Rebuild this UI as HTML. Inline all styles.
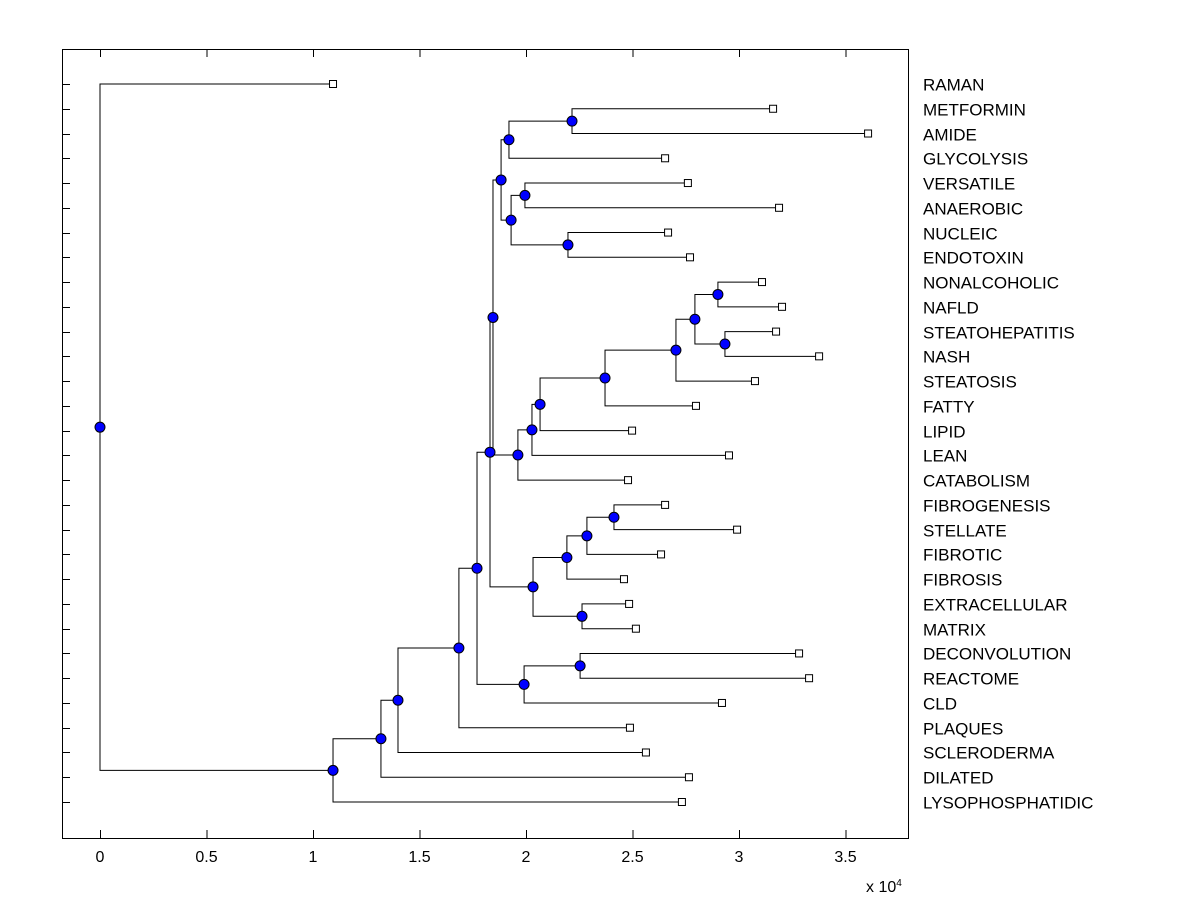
<!DOCTYPE html>
<html><head><meta charset="utf-8"><style>body{margin:0;background:#fff}svg{display:block}text{font-family:"Liberation Sans",sans-serif;font-size:16px;fill:#000}.lbl{font-size:17px}</style></head>
<body>
<svg id="chart" width="1200" height="900"></svg>
<script>
const leafLabels=["RAMAN","METFORMIN","AMIDE","GLYCOLYSIS","VERSATILE","ANAEROBIC","NUCLEIC","ENDOTOXIN","NONALCOHOLIC","NAFLD","STEATOHEPATITIS","NASH","STEATOSIS","FATTY","LIPID","LEAN","CATABOLISM","FIBROGENESIS","STELLATE","FIBROTIC","FIBROSIS","EXTRACELLULAR","MATRIX","DECONVOLUTION","REACTOME","CLD","PLAQUES","SCLERODERMA","DILATED","LYSOPHOSPHATIDIC"];
const leafValues=[1.094,3.16,3.606,2.653,2.76,3.188,2.667,2.77,3.108,3.202,3.174,3.376,3.075,2.798,2.498,2.953,2.479,2.653,2.991,2.634,2.46,2.484,2.516,3.282,3.329,2.92,2.488,2.563,2.765,2.732];
const merges=[
["1","2",2.216],["n0","3",1.92],["4","5",1.995],["6","7",2.197],["n2","n3",1.93],["n1","n4",1.883],
["8","9",2.901],["10","11",2.934],["n6","n7",2.793],["n8","12",2.704],["n9","13",2.371],["n10","14",2.066],["n11","15",2.028],["n12","16",1.962],
["17","18",2.413],["n14","19",2.286],["n15","20",2.192],["21","22",2.263],["n16","n17",2.033],
["n5","n13",1.845],["n19","n18",1.831],["23","24",2.254],["n21","25",1.991],["n20","n22",1.77],
["n23","26",1.685],["n24","27",1.399],["n25","28",1.319],["n26","29",1.094],["0","n27",0]];
const xTicks=[0,0.5,1,1.5,2,2.5,3,3.5];
const X=v=>100+v*213, Yr=i=>84+i*(802-84)/29;
const svg=document.getElementById('chart'),NS="http://www.w3.org/2000/svg";
function mk(t,a,p){const e=document.createElementNS(NS,t);for(const k in a)e.setAttribute(k,a[k]);(p||svg).appendChild(e);return e;}
const ax=mk('g',{});


mk('rect',{x:62.5,y:49.5,width:846,height:789,fill:'none',stroke:'#000','stroke-width':1},ax);
xTicks.forEach(t=>{const x=X(t)+0.5;
mk('line',{x1:x,x2:x,y1:838,y2:830,stroke:'#000'},ax);mk('line',{x1:x,x2:x,y1:49,y2:57,stroke:'#000'},ax);
const tx=mk('text',{x:X(t),y:862,'text-anchor':'middle'},ax);tx.textContent=String(t);

});
const ex=mk('text',{x:866,y:892,'font-size':'14'},ax);ex.innerHTML='x 10<tspan dy="-6" font-size="10">4</tspan>';


leafLabels.forEach((l,i)=>{const y=Math.round(Yr(i))+0.5;mk('line',{x1:62,x2:70,y1:y,y2:y,stroke:'#000'},ax);
const t=mk('text',{x:923,y:y+6,'class':'lbl'},ax);t.textContent=l;

});
const nodes={};leafValues.forEach((v,i)=>nodes[String(i)]={x:v,y:Yr(i)});
const g=mk('g',{}),mg=mk('g',{});
const circles=[];
merges.forEach((m,k)=>{const a=nodes[m[0]],b=nodes[m[1]],v=m[2];const n={x:v,y:(a.y+b.y)/2};nodes['n'+k]=n;
const p=mk('path',{d:`M${X(a.x)},${a.y}H${X(v)}V${b.y}H${X(b.x)}`,fill:'none',stroke:'#000','stroke-width':1},g);


circles.push(n);});
leafValues.forEach((v,i)=>{const s=mk('rect',{x:X(v)-3.5,y:Yr(i)-3.5,width:7,height:7,fill:'#fff',stroke:'#000'},mg);

});
circles.forEach(n=>{const c=mk('circle',{cx:X(n.x),cy:n.y,r:5,fill:'#0000ff',stroke:'#000','stroke-width':1},mg);

});
</script>
</body></html>
